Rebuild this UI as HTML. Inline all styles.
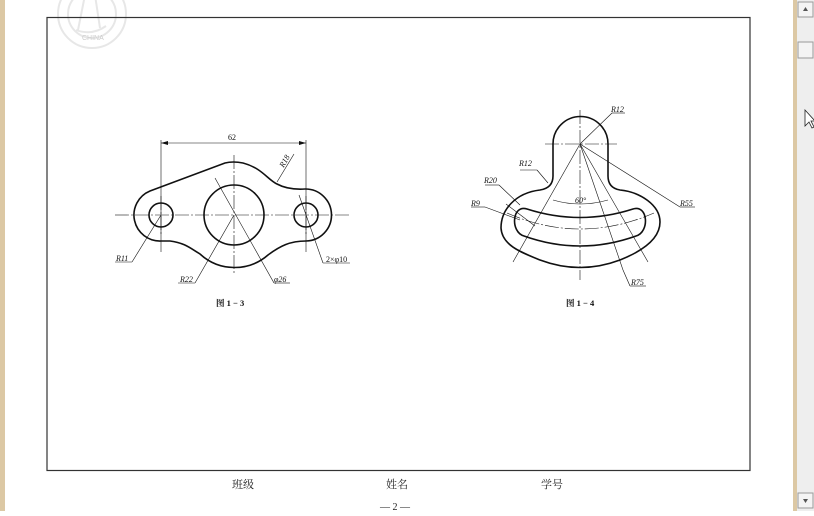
<!DOCTYPE html>
<html><head><meta charset="utf-8"><style>
body{margin:0;width:814px;height:511px;overflow:hidden;background:#fff;font-family:"Liberation Serif","Noto Serif CJK SC",serif;}
</style></head><body>
<svg width="814" height="511" viewBox="0 0 814 511" xmlns="http://www.w3.org/2000/svg" font-family="Liberation Serif, Noto Serif CJK SC, serif">
<rect x="0" y="0" width="814" height="511" fill="#fff"/>
<rect x="0" y="0" width="5" height="511" fill="#dcc8a4"/>
<rect x="793" y="0" width="4" height="511" fill="#dcc8a4"/>
<rect x="797" y="0" width="17" height="511" fill="#eeeeee"/>
<rect x="798" y="2" width="15" height="15" fill="#f4f4f4" stroke="#999"/>
<path d="M803,11 L805.5,7 L808,11Z" fill="#555"/>
<rect x="798" y="42" width="15" height="16" fill="#f4f4f4" stroke="#999"/>
<rect x="798" y="493" width="15" height="15" fill="#f4f4f4" stroke="#999"/>
<path d="M803,499 L805.5,503 L808,499Z" fill="#555"/>
<path d="M805,110 L805,126 L809,122 L812,128 L814,127 L811,121 L815,121Z" fill="#fff" stroke="#222" stroke-width="0.8"/>
<g stroke="#ddd" fill="none" stroke-width="2" opacity="0.7">
<circle cx="92" cy="14" r="34"/><circle cx="92" cy="14" r="24"/>
<path d="M85,-5 L78,30 M95,-5 L100,28 M76,30 Q92,36 106,26"/>
</g>
<text x="82" y="40" font-size="7" fill="#ccc" font-family="Liberation Sans">CHINA</text>
<rect x="47" y="17.5" width="703" height="453" fill="none" stroke="#333" stroke-width="1.2"/>
<g fill="none" stroke="#111">
<g stroke-width="0.6" stroke-dasharray="14,2,2,2">
<line x1="115" y1="215" x2="350" y2="215"/>
<line x1="234" y1="155" x2="234" y2="275"/>
<line x1="161" y1="196" x2="161" y2="234"/>
<line x1="306" y1="196" x2="306" y2="234"/>
</g>
<g stroke-width="0.6">
<line x1="161" y1="140" x2="161" y2="252"/>
<line x1="306" y1="140" x2="306" y2="252"/>
<line x1="161" y1="143" x2="306" y2="143"/>
<line x1="215" y1="178" x2="274" y2="283"/><line x1="274" y1="283" x2="290" y2="283"/>
<line x1="234" y1="215" x2="195" y2="283"/><line x1="195" y1="283" x2="178" y2="283"/>
<line x1="161" y1="215" x2="132" y2="262"/><line x1="132" y1="262" x2="115" y2="262"/>
<line x1="299" y1="195" x2="323" y2="263"/><line x1="323" y1="263" x2="350" y2="263"/>
<line x1="277" y1="182" x2="294" y2="154"/>
</g>
<g fill="#111" stroke="none">
<path d="M161,143 l7,-2 v4z"/><path d="M306,143 l-7,-2 v4z"/>
</g>
<path stroke-width="1.6" d="M150,191 L225,163 Q233,161 243,163 C262,168 268,180 277,184 Q288,190 305,189 A26,26 0 0 1 306,241 C290,241 280,246 268,255 A51,51 0 0 1 200,254 C190,248 185,243 170,241 L161,241 A26,26 0 0 1 150,191 Z"/>
<circle cx="161" cy="215" r="12" stroke-width="1.6"/>
<circle cx="306" cy="215" r="12" stroke-width="1.6"/>
<circle cx="234" cy="215" r="30" stroke-width="1.6"/>
<g stroke-width="0.6" stroke-dasharray="14,2,2,2">
<line x1="545" y1="144" x2="617" y2="144"/>
<line x1="580" y1="110" x2="580" y2="280"/>
<path d="M507,213 Q580,245 654,213"/>
</g>
<g stroke-width="0.6">
<line x1="580" y1="144" x2="513" y2="262"/>
<line x1="580" y1="144" x2="623" y2="270"/>
<line x1="580" y1="144" x2="648" y2="262"/>
<line x1="580" y1="144" x2="680" y2="207"/><line x1="680" y1="207" x2="695" y2="207"/>
<line x1="580" y1="144" x2="612" y2="113"/><line x1="612" y1="113" x2="625" y2="113"/>
<line x1="623" y1="270" x2="630" y2="286"/><line x1="630" y1="286" x2="646" y2="286"/>
<path d="M553,200 Q580,208 608,200"/>
<line x1="520" y1="170" x2="537" y2="170"/><line x1="537" y1="170" x2="548" y2="183"/>
<line x1="485" y1="185" x2="499" y2="185"/><line x1="499" y1="185" x2="520" y2="205"/>
<line x1="471" y1="207" x2="485" y2="207"/><line x1="485" y1="207" x2="520" y2="220"/>
<line x1="506" y1="204" x2="535" y2="226"/>
</g>
<path stroke-width="1.6" d="M553,144 L553,176 Q553,188 540,190 C515,193 501,210 501,228 C502,245 520,252 540,260 Q580,275 620,260 C640,252 660,240 660,222 C660,205 640,192 620,190 Q608,188 608,176 L608,144 A27.5,27.5 0 0 0 553,144 Z"/>
<path stroke-width="1.6" d="M527,209 Q580,226 633,209 C648,204 650,232 636,236 Q580,256 524,236 C510,232 512,204 527,209 Z"/>
</g>
<g font-size="8" fill="#111" font-style="italic">
<text x="228" y="140" font-style="normal">62</text>
<text x="279" y="166" transform="rotate(-60 283 163)">R18</text>
<text x="116" y="261">R11</text>
<text x="180" y="282">R22</text>
<text x="274" y="282">φ26</text>
<text x="326" y="262" font-style="normal">2×φ10</text>
<text x="611" y="112">R12</text>
<text x="519" y="166">R12</text>
<text x="484" y="183">R20</text>
<text x="471" y="206">R9</text>
<text x="680" y="206">R55</text>
<text x="631" y="285">R75</text>
<text x="575" y="203">60°</text>
</g>
<g font-size="8.5" font-weight="bold" fill="#111">
<text x="216" y="306">图 1 − 3</text>
<text x="566" y="306">图 1 − 4</text>
</g>
<g font-size="11" fill="#222">
<text x="232" y="488">班级</text>
<text x="386" y="488">姓名</text>
<text x="541" y="488">学号</text>
<text x="380" y="510" font-size="10">— 2 —</text>
</g>
</svg>
</body></html>
